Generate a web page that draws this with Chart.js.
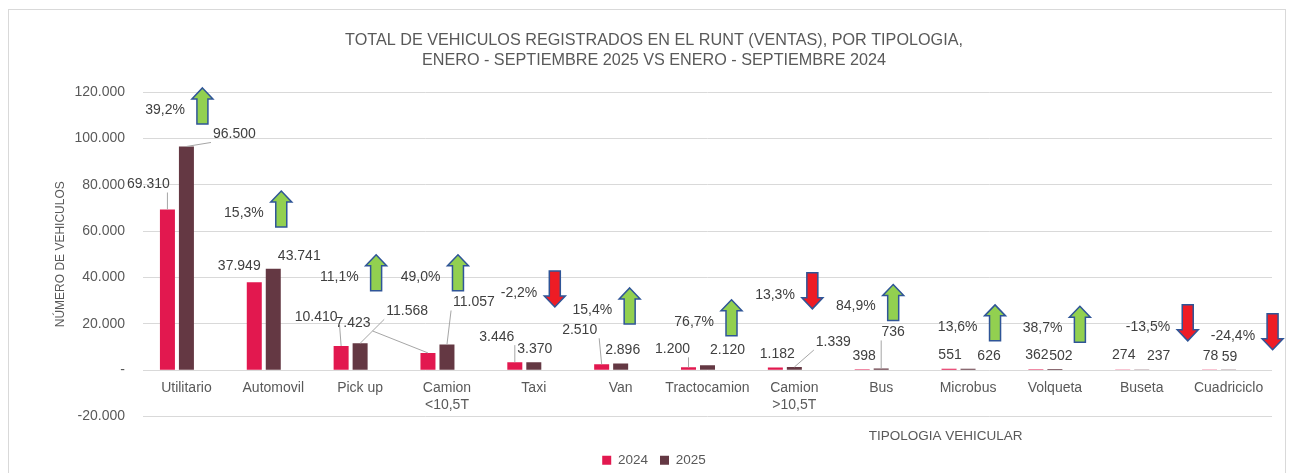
<!DOCTYPE html>
<html>
<head>
<meta charset="utf-8">
<script src="https://cdn.jsdelivr.net/npm/chart.js@4.4.1/dist/chart.umd.min.js"></script>
<style>
	html, body { margin: 0; padding: 0; background: #fff; }
	#wrap { width: 1293px; height: 473px; }
</style>
</head>
<body>
<div id="wrap"><canvas id="runtChart" width="1293" height="473"></canvas></div>
<script>
const categories = ['Utilitario', 'Automovil', 'Pick up', ['Camion', '<10,5T'], 'Taxi', 'Van', 'Tractocamion', ['Camion', '>10,5T'], 'Bus', 'Microbus', 'Volqueta', 'Buseta', 'Cuadriciclo'];
const sales2024 = [69310, 37949, 10410, 7423, 3446, 2510, 1200, 1182, 398, 551, 362, 274, 78];
const sales2025 = [96500, 43741, 11568, 11057, 3370, 2896, 2120, 1339, 736, 626, 502, 237, 59];
const changePct = [39.2, 15.3, 11.1, 49.0, -2.2, 15.4, 76.7, 13.3, 84.9, 13.6, 38.7, -13.5, -24.4];
const arrowDir = ['up', 'up', 'up', 'up', 'down', 'up', 'up', 'down', 'up', 'up', 'up', 'down', 'down'];
const yTicks = [-20000, 0, 20000, 40000, 60000, 80000, 100000, 120000];

// hand placement of the labels, as in the original (px nudges from the default spot)
const nudge2024 = [[-19, -11], [-15, -2], [-25, -15], [-75, -16], [-18, -11], [-22, -20], [-16, -4], [2, 1], [2, 1], [1, 0], [1, 0], [1, 0], [1, 0]];
const nudge2025 = [[48, 2], [26, 1], [47, -18], [27, -28], [1, 1], [2, 1], [20, -1], [39, -11], [12, -22], [21, 1], [6, 1], [17, 1], [1, 1]];
// arrows: px from category centre, height on the y axis
const arrowSpot = [[16, 114000], [8, 69500], [16, 42000], [11, 42000], [21, 35000], [9, 27700], [24, 22600], [18, 34200], [12, 29200], [27, 20400], [25, 19800], [46, 20400], [44, 16600]];

const FONT = "'Liberation Sans', Arial, sans-serif";
const fmtNum = v => v.toLocaleString('de-DE');
const fmtPct = v => v.toFixed(1).replace('.', ',') + '%';

const extras = {
	id: 'extras',
	beforeDraw(chart) {
		const c = chart.ctx;
		c.save();
		c.fillStyle = '#fff';
		c.fillRect(0, 0, chart.width, chart.height);
		c.strokeStyle = '#D9D9D9';
		c.lineWidth = 1;
		c.strokeRect(8.5, 9.5, 1277, 470);
		c.restore();
	},
	afterDatasetsDraw(chart) {
		const c = chart.ctx;
		const xs = chart.scales.x;
		const ys = chart.scales.y;
		const area = chart.chartArea;
		c.save();
		c.font = '14px ' + FONT;
		c.textAlign = 'center';
		c.textBaseline = 'middle';

		[[0, sales2024, nudge2024], [1, sales2025, nudge2025]].forEach(([di, vals, nudge]) => {
			const meta = chart.getDatasetMeta(di);
			meta.data.forEach((bar, i) => {
				const txt = fmtNum(vals[i]);
				const lx = bar.x + nudge[i][0];
				const ly = bar.y - 14 + nudge[i][1];
				const hw = c.measureText(txt).width / 2 + 2;
				const hh = 8;
				// leader line to the nearest point of the label box
				const px = Math.max(lx - hw, Math.min(bar.x, lx + hw));
				const py = Math.max(ly - hh, Math.min(bar.y, ly + hh));
				if (Math.hypot(px - bar.x, py - bar.y) > 9) {
					c.strokeStyle = '#A6A6A6';
					c.lineWidth = 1;
					c.beginPath();
					c.moveTo(bar.x, bar.y);
					c.lineTo(px, py);
					c.stroke();
				}
				c.fillStyle = '#404040';
				c.fillText(txt, lx, ly);
			});
		});

		categories.forEach((cat, i) => {
			const ax = xs.getPixelForValue(i) + arrowSpot[i][0];
			const ay = ys.getPixelForValue(arrowSpot[i][1]);
			const s = arrowDir[i] === 'up' ? 1 : -1;
			c.beginPath();
			c.moveTo(ax, ay - 18 * s);
			c.lineTo(ax + 10.5, ay - 7 * s);
			c.lineTo(ax + 5.5, ay - 7 * s);
			c.lineTo(ax + 5.5, ay + 18 * s);
			c.lineTo(ax - 5.5, ay + 18 * s);
			c.lineTo(ax - 5.5, ay - 7 * s);
			c.lineTo(ax - 10.5, ay - 7 * s);
			c.closePath();
			c.fillStyle = s > 0 ? '#92D050' : '#EE1C25';
			c.fill();
			c.strokeStyle = '#2F5597';
			c.lineWidth = 1.5;
			c.stroke();

			c.fillStyle = '#404040';
			c.textAlign = 'right';
			c.fillText(fmtPct(changePct[i]), ax - 17.5, ay + 4);
			c.textAlign = 'center';
		});

		c.font = '13.5px ' + FONT;
		c.fillStyle = '#595959';
		c.fillText('TIPOLOGIA VEHICULAR', area.left + (area.right - area.left) * 0.711, area.bottom + 20);
		c.restore();
	}
};

new Chart(document.getElementById('runtChart').getContext('2d'), {
	type: 'bar',
	data: {
		labels: categories,
		datasets: [{
			label: '2024',
			data: sales2024,
			backgroundColor: '#E2184F'
		}, {
			label: '2025',
			data: sales2025,
			backgroundColor: '#643843'
		}, {
			label: 'Variación',
			data: categories.map(() => null),
			backgroundColor: 'rgba(0,0,0,0)'
		}]
	},
	options: {
		responsive: false,
		animation: false,
		devicePixelRatio: 1,
		categoryPercentage: 0.656,
		barPercentage: 0.79,
		layout: {
			padding: { left: 36, right: 21, top: 0, bottom: -4 }
		},
		scales: {
			x: {
				type: 'category',
				position: { y: 0 },
				grid: { display: false, drawTicks: false },
				border: { display: false },
				ticks: {
					color: '#595959',
					font: { family: FONT, size: 14 },
					padding: 10,
					maxRotation: 0,
					autoSkip: false
				}
			},
			x2: {
				type: 'category',
				position: 'bottom',
				grid: { display: false, drawTicks: false },
				border: { display: false },
				ticks: { display: false },
				afterFit: function(scale) {
					scale.height = 25;
				}
			},
			y: {
				min: yTicks[0],
				max: yTicks[yTicks.length - 1],
				afterBuildTicks: function(scale) {
					scale.ticks = yTicks.map(v => ({ value: v }));
				},
				afterFit: function(scale) {
					scale.width = 107;
				},
				grid: { color: '#D9D9D9', lineWidth: 1, drawTicks: false },
				border: { display: false },
				ticks: {
					color: '#595959',
					font: { family: FONT, size: 14 },
					padding: 18,
					callback: function(v) {
						return v === 0 ? '-' : fmtNum(v);
					}
				},
				title: {
					display: true,
					text: 'NÚMERO DE VEHICULOS',
					color: '#595959',
					font: { family: FONT, size: 12 },
					padding: { top: 17, bottom: 0 }
				}
			}
		},
		plugins: {
			title: {
				display: true,
				text: ['TOTAL DE VEHICULOS REGISTRADOS EN EL RUNT (VENTAS), POR TIPOLOGIA,', 'ENERO - SEPTIEMBRE 2025 VS ENERO - SEPTIEMBRE 2024'],
				color: '#595959',
				font: { family: FONT, size: 16.2, weight: 'normal', lineHeight: 1.25 },
				padding: { top: 30, bottom: 21.5 }
			},
			legend: {
				position: 'bottom',
				labels: {
					boxWidth: 9,
					boxHeight: 9,
					padding: 12,
					color: '#595959',
					font: { family: FONT, size: 13.5 },
					filter: function(item) {
						return item.datasetIndex < 2;
					}
				}
			},
			tooltip: { enabled: false }
		}
	},
	plugins: [extras]
});
</script>
</body>
</html>
